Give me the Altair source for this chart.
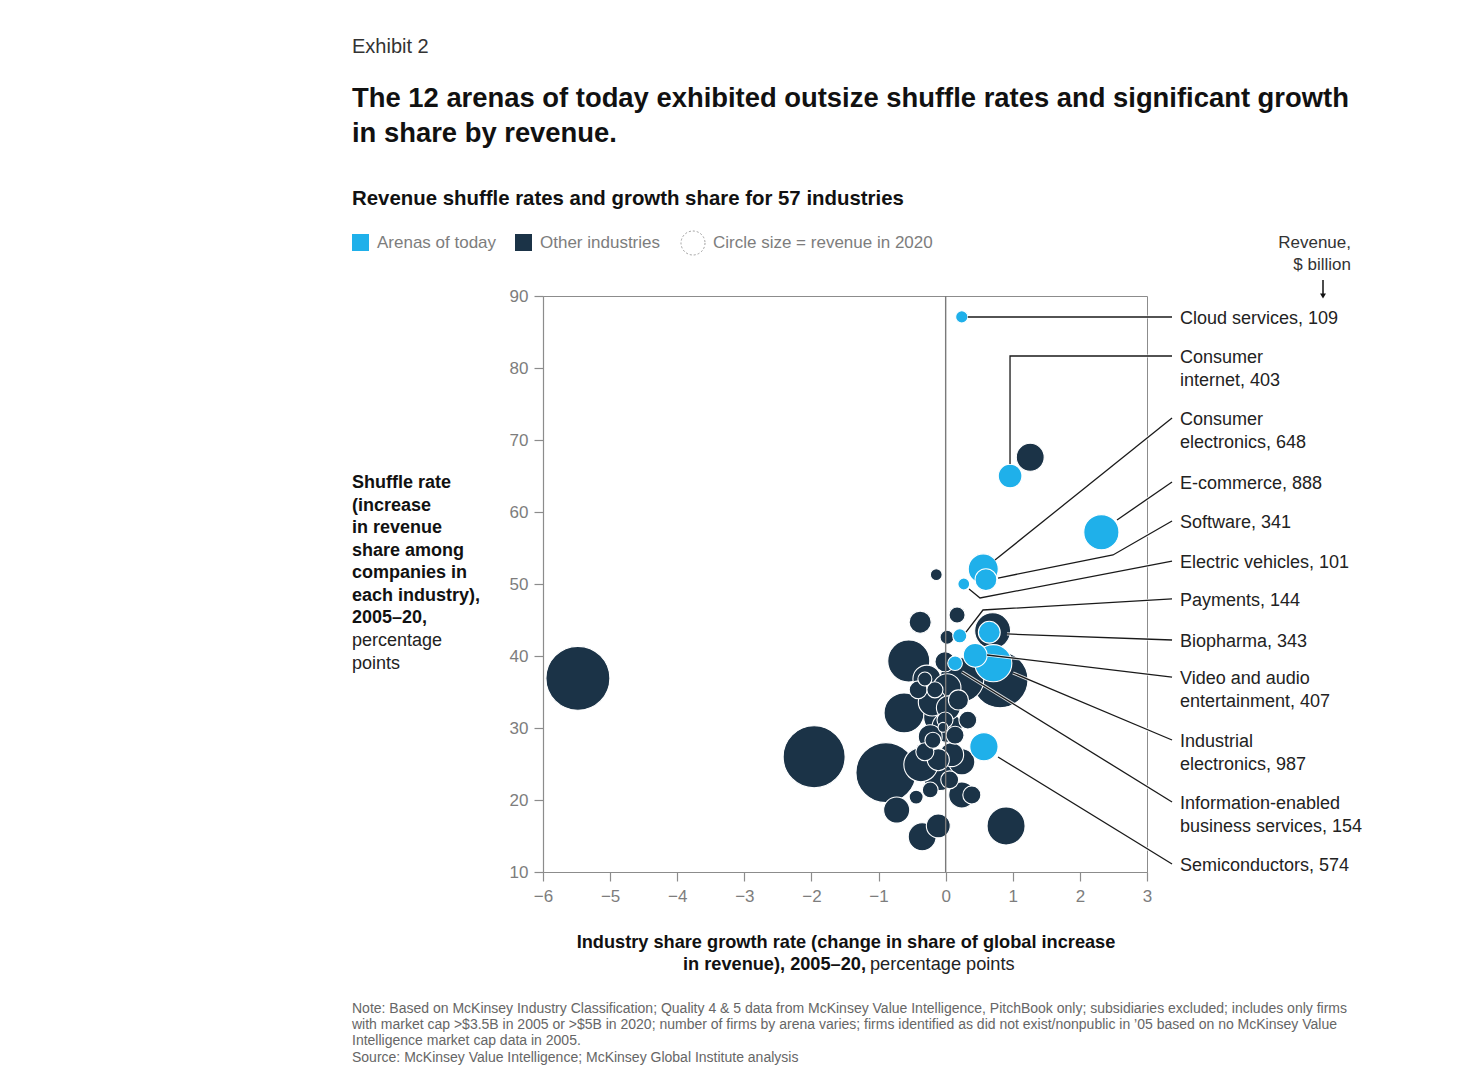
import altair as alt
import pandas as pd

FONT = "Liberation Sans"
BLUE = "#1fb0ea"
NAVY = "#1b3347"
GREY = "#7d7d7d"
X0, Y0 = 543, 296          # plot-area origin in the page
W, H = 604, 576

# ---------------- data ----------------
arena_names = ["Cloud services", "Consumer internet", "Consumer electronics", "E-commerce",
               "Software", "Electric vehicles", "Payments", "Biopharma",
               "Video and audio entertainment", "Industrial electronics",
               "Information-enabled business services", "Semiconductors"]
arena_x = [0.24, 0.96, 0.56, 2.32, 0.60, 0.27, 0.21, 0.65, 0.44, 0.71, 0.14, 0.57]
arena_y = [87.1, 65.0, 52.1, 57.2, 50.6, 50.0, 42.8, 43.3, 40.1, 39.0, 39.0, 27.4]
arena_rev = [109, 403, 648, 888, 341, 101, 144, 343, 407, 987, 154, 574]

label_line1 = ["Cloud services, 109", "Consumer", "Consumer", "E-commerce, 888", "Software, 341",
               "Electric vehicles, 101", "Payments, 144", "Biopharma, 343", "Video and audio",
               "Industrial", "Information-enabled", "Semiconductors, 574"]
label_line2 = ["", "internet, 403", "electronics, 648", "", "", "", "", "",
               "entertainment, 407", "electronics, 987", "business services, 154", ""]
label_y = [87.08, 81.67, 73.06, 64.17, 58.75, 53.19, 47.92, 42.22, 37.08, 28.33, 19.72, 11.11]

leader_x = [[0.33, 3.373], [0.959, 0.959, 3.373], [0.735, 3.373], [2.553, 3.373],
            [0.78, 2.493, 3.373], [0.348, 0.512, 3.373], [0.303, 0.556, 3.373],
            [0.914, 3.373], [0.616, 3.373], [1.003, 3.373], [0.243, 3.373], [0.78, 3.373]]
leader_y = [[87.08, 87.08], [66.67, 81.67, 81.67], [53.33, 73.06], [58.89, 64.17],
            [50.83, 54.03, 58.75], [49.31, 48.06, 53.19], [43.33, 46.39, 47.92],
            [43.06, 42.22], [40.14, 37.08], [37.64, 28.33], [37.78, 19.72], [25.97, 11.11]]

other_x = [-5.48, -1.96, -0.89, 0.81, 1.26, 0.90, -0.14, 0.17, -0.38, 0.02, 0.70, -0.55,
           0.24, -0.62, -0.28, -0.31, 0.02, -0.20, 0.04, -0.09, -0.01, -0.04, -0.23, -0.19,
           0.02, -0.37, -0.09, 0.24, 0.24, 0.39, -0.73, -0.44, -0.35, -0.11, 0.09, 0.19,
           -0.01, -0.16, -0.31, 0.14, -0.11, 0.33, -0.41, 0.06, -0.23]
other_y = [36.9, 26.0, 23.8, 36.7, 67.6, 16.4, 51.3, 45.7, 44.7, 42.6, 43.5, 39.3,
           36.7, 32.1, 36.8, 36.8, 35.6, 33.6, 32.8, 31.5, 31.1, 30.1, 28.8, 28.3,
           30.1, 24.9, 23.8, 25.3, 20.7, 20.7, 18.6, 20.4, 14.9, 16.4, 26.3, 33.9,
           39.2, 35.3, 26.7, 29.0, 25.6, 31.1, 35.3, 22.8, 21.4]
other_rev = [2940, 2760, 2590, 2250, 560, 1040, 100, 185, 350, 140, 930, 1270,
             1390, 1150, 560, 140, 560, 560, 410, 735, 185, 70, 410, 185,
             650, 830, 930, 490, 490, 235, 490, 140, 560, 410, 410, 290,
             290, 185, 235, 230, 350, 230, 230, 230, 180]

arenas = pd.DataFrame({"name": arena_names, "x": arena_x, "y": arena_y, "rev": arena_rev})
others = pd.DataFrame({"x": other_x, "y": other_y, "rev": other_rev})
labels = pd.DataFrame({"l1": label_line1, "l2": label_line2, "y": label_y})
rows = []
for i, (xs, ys) in enumerate(zip(leader_x, leader_y)):
    for j, (a, b) in enumerate(zip(xs, ys)):
        rows.append({"id": i, "o": j, "x": a, "y": b})
leaders = pd.DataFrame(rows)
one = pd.DataFrame({"k": [0]})

xscale = alt.Scale(domain=[-6, 3], nice=False, zero=False)
yscale = alt.Scale(domain=[10, 90], nice=False, zero=False)
# Vega circle: size = (2r)^2 ; r ~ 0.59*sqrt(revenue)
sscale = alt.Scale(domain=[0, 3000], range=[0, 4176])
xaxis = alt.Axis(values=list(range(-6, 4)), title=None, grid=False, labelFlush=False,
                 labelPadding=7)
yaxis = alt.Axis(values=list(range(10, 91, 10)), title=None, grid=False, labelPadding=6)


def X(f="x:Q"):
    return alt.X(f, scale=xscale, axis=xaxis)


def Y(f="y:Q"):
    return alt.Y(f, scale=yscale, axis=yaxis)


def txt(s, x, y, size=17, weight="normal", color="#222222", align="left",
        baseline="middle", line_height=None):
    kw = dict(text=s, align=align, baseline=baseline, fontSize=size,
              fontWeight=weight, color=color, font=FONT)
    if line_height:
        kw["lineHeight"] = line_height
    return alt.Chart(one).mark_text(**kw).encode(x=alt.value(x - X0), y=alt.value(y - Y0))


# ---------------- plot layers ----------------
other_pts = alt.Chart(others).mark_circle(opacity=1, color=NAVY, stroke="white", strokeWidth=1.1).encode(
    x=X(), y=Y(),
    size=alt.Size("rev:Q", scale=sscale, legend=None),
    order=alt.Order("rev:Q", sort="descending"),
)

zero_rule = alt.Chart(pd.DataFrame({"x": [0]})).mark_rule(color="#7a7a7a", strokeWidth=1.4).encode(
    x=X())

arena_pts = alt.Chart(arenas).mark_circle(opacity=1, color=BLUE, stroke="white", strokeWidth=1.1).encode(
    x=X(), y=Y(),
    size=alt.Size("rev:Q", scale=sscale, legend=None),
    order=alt.Order("rev:Q", sort="descending"),
)

lead_halo = alt.Chart(leaders).mark_line(color="white", strokeWidth=3.2, opacity=0.8).encode(
    x=X(), y=Y(), detail="id:N", order="o:Q")
lead_line = alt.Chart(leaders).mark_line(color="#1a1a1a", strokeWidth=1.3).encode(
    x=X(), y=Y(), detail="id:N", order="o:Q")

lab1 = alt.Chart(labels).mark_text(align="left", baseline="middle", fontSize=18, font=FONT,
                                   color="#222222", dy=2).encode(
    x=alt.value(1180 - X0), y=Y(), text="l1:N")
lab2 = alt.Chart(labels).mark_text(align="left", baseline="middle", fontSize=18, font=FONT,
                                   color="#222222", dy=25).encode(
    x=alt.value(1180 - X0), y=Y(), text="l2:N")

# ---------------- annotations ----------------
ann = [
    txt("Exhibit 2", 352, 47, size=20, color="#333333"),
    txt("The 12 arenas of today exhibited outsize shuffle rates and significant growth",
        352, 99, size=27.4, weight="bold", color="#111111"),
    txt("in share by revenue.", 352, 134, size=27.4, weight="bold", color="#111111"),
    txt("Revenue shuffle rates and growth share for 57 industries", 352, 199, size=20.4,
        weight="bold", color="#111111"),
    txt("Arenas of today", 377, 243, size=17, color=GREY),
    txt("Other industries", 540, 243, size=17, color=GREY),
    txt("Circle size = revenue in 2020", 713, 243, size=17, color=GREY),
    txt("Revenue,", 1351, 243, size=17, color="#333333", align="right"),
    txt("$ billion", 1351, 265, size=17, color="#333333", align="right"),
    txt(["Shuffle rate", "(increase", "in revenue", "share among", "companies in",
         "each industry),", "2005–20,"], 352, 474, size=18, weight="bold",
        color="#111111", baseline="top", line_height=22.5),
    txt(["percentage", "points"], 352, 632, size=18, color="#222222",
        baseline="top", line_height=22.5),
    txt("Industry share growth rate (change in share of global increase", 846, 943,
        size=18.2, weight="bold", color="#111111", align="center"),
    txt("in revenue), 2005–20,", 866, 965, size=18.2, weight="bold", color="#111111",
        align="right"),
    txt("percentage points", 870, 965, size=18.2, color="#222222"),
    txt(["Note: Based on McKinsey Industry Classification; Quality 4 & 5 data from McKinsey Value Intelligence, PitchBook only; subsidiaries excluded; includes only firms",
         "with market cap >$3.5B in 2005 or >$5B in 2020; number of firms by arena varies; firms identified as did not exist/nonpublic in ’05 based on no McKinsey Value",
         "Intelligence market cap data in 2005.",
         "Source: McKinsey Value Intelligence; McKinsey Global Institute analysis"],
        352, 1002, size=14, color="#666666", baseline="top", line_height=16.2),
]

legend_blue = alt.Chart(one).mark_rect(color=BLUE).encode(
    x=alt.value(352 - X0), x2=alt.value(369 - X0), y=alt.value(234 - Y0), y2=alt.value(251 - Y0))
legend_navy = alt.Chart(one).mark_rect(color=NAVY).encode(
    x=alt.value(515 - X0), x2=alt.value(532 - X0), y=alt.value(234 - Y0), y2=alt.value(251 - Y0))
legend_circ = alt.Chart(one).mark_point(shape="circle", size=576, filled=False, color="#777777",
                                        strokeDash=[2, 2], strokeWidth=1).encode(
    x=alt.value(693 - X0), y=alt.value(243 - Y0))
arrow_stem = alt.Chart(one).mark_rule(color="#111111", strokeWidth=1.5).encode(
    x=alt.value(1323 - X0), y=alt.value(280 - Y0), y2=alt.value(294 - Y0))
arrow_head = alt.Chart(one).mark_point(shape="triangle-down", filled=True, size=35, color="#111111",
                                       opacity=1).encode(
    x=alt.value(1323 - X0), y=alt.value(296 - Y0))

chart = alt.layer(
    other_pts, zero_rule, arena_pts, lead_halo, lead_line, lab1, lab2,
    legend_blue, legend_navy, legend_circ, arrow_stem, arrow_head, *ann
).properties(
    width=W, height=H,
    autosize=alt.AutoSizeParams(type="none"),
    padding={"left": X0, "top": Y0, "right": 1471 - X0 - W, "bottom": 1080 - Y0 - H},
    background="white",
).configure_view(
    stroke="#8c8c8c", strokeWidth=1
).configure_axis(
    labelFont=FONT, labelFontSize=17, labelColor=GREY, tickColor="#8c8c8c",
    domainColor="#8c8c8c", tickSize=9, domainWidth=1.2, tickWidth=1.2
)

chart.save("out.html", embed_options={"renderer": "svg", "actions": False})
